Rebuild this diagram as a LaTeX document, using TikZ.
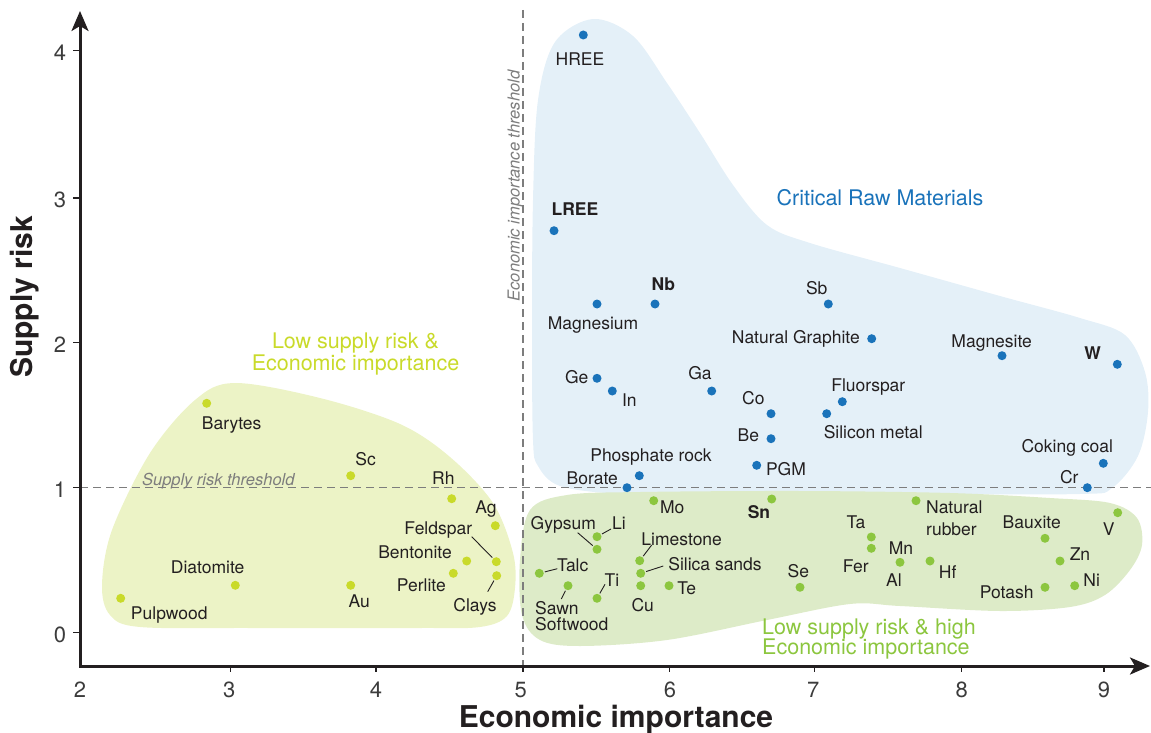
\documentclass[tikz,border=0pt]{standalone}
\usepackage{fontspec}
\setmainfont{TeX Gyre Heros}
\usetikzlibrary{arrows.meta}
\definecolor{cblue}{RGB}{26,115,186}
\definecolor{bluefill}{RGB}{228,240,248}
\definecolor{clime}{RGB}{201,218,42}
\definecolor{limefill}{RGB}{236,243,198}
\definecolor{cgreen}{RGB}{140,198,63}
\definecolor{greenfill}{RGB}{221,235,200}
\definecolor{ctext}{RGB}{35,31,32}
\definecolor{cdash}{RGB}{125,125,125}
\definecolor{ctick}{RGB}{60,60,60}
\tikzset{
  dotbase/.style={circle, inner sep=0pt, minimum size=9pt, draw=none},
  bdot/.style={dotbase, fill=cblue},
  ldot/.style={dotbase, fill=clime},
  gdot/.style={dotbase, fill=cgreen},
  lbl/.style={font=\fontsize{17.5}{17.5}\selectfont, text=ctext, inner sep=0pt, text height=12.6pt, text depth=0pt},
  blbl/.style={lbl, font=\fontsize{17.5}{17.5}\selectfont\bfseries},
  mlbl/.style={font={\fontsize{17.5}{16}\selectfont\lineskiplimit=-20pt}, text=ctext, inner sep=0pt, align=left, anchor=north west},
  leader/.style={draw=ctext, line width=0.9pt, shorten <=1pt},
  thr/.style={draw=cdash, line width=1.5pt, dash pattern=on 8pt off 5pt},
  thrtext/.style={font=\fontsize{16.5}{16.5}\selectfont\itshape, text=cdash, inner sep=0pt, anchor=base},
  axisline/.style={draw=ctext, line width=3pt, line join=miter, {Stealth[length=20pt,width=17pt,inset=5pt]}-{Stealth[length=20pt,width=17pt,inset=5pt]}},
  tickmark/.style={draw=ctext, line width=1.2pt},
  ticklbl/.style={font=\fontsize{22}{22}\selectfont, text=ctick, inner sep=0pt, text height=15.8pt, text depth=0pt},
  axtitle/.style={font=\fontsize{30}{30}\selectfont\bfseries, text=ctext, inner sep=0pt},
  region/.style={font=\fontsize{21.5}{22}\selectfont, inner sep=0pt},
}
\begin{document}
\begin{tikzpicture}[x=1pt,y=-1pt]
\useasboundingbox (0,0) rectangle (1151,733);

% ---------- regions ----------
\fill[bluefill] plot[smooth cycle, tension=0.55] coordinates {
 (533,440) (532,330) (533,200) (538,100) (555,42) (593,19) (633,36) (667,83) (700,133)
 (733,185) (767,225) (810,243) (900,268) (1000,296) (1080,318) (1125,335) (1145,372)
 (1148,412) (1138,456) (1112,488) (1080,494) (900,494) (700,494) (620,494) (560,486) (538,466)};

\fill[limefill] plot[smooth cycle, tension=0.55] coordinates {
 (235,383) (320,398) (400,424) (450,457) (493,503) (513,553) (515,588) (507,616) (480,627)
 (420,628) (250,628) (140,627) (110,615) (102,585) (112,530) (150,453) (195,400)};

\fill[greenfill] plot[smooth cycle, tension=0.55] coordinates {
 (530,510) (567,495) (640,492) (800,491) (950,493) (1050,498) (1110,503) (1137,518)
 (1142,545) (1130,570) (1105,595) (1070,607) (1000,611) (900,606) (850,604) (767,620)
 (667,640) (580,646) (540,640) (522,615) (520,560)};

% ---------- thresholds ----------
\coordinate (vt) at (523,10);
\coordinate (vb) at (523,665);
\coordinate (hl) at (80,487.7);
\coordinate (hr) at (1151,487.7);
\draw[thr] (vt) -- (vb);
\draw[thr] (hl) -- (hr);
\node[thrtext] (srt) at (218.3,485) {Supply risk threshold};
\node[thrtext, rotate=90] (eit) at (519.5,186) {Economic importance threshold};

% ---------- axes ----------
\coordinate (ytop) at (80,11);
\coordinate (origin) at (80,666);
\coordinate (xend) at (1150,666);
\draw[axisline] (ytop) -- (origin) -- (xend);

\foreach \yy/\t in {632.7/0,487.7/1,342.7/2,198/3,50.7/4}{
  \draw[tickmark] (73,\yy) -- (80,\yy);
  \node[ticklbl] (yt\t) at (60,\yy+1.5) {\t};
}
\foreach \xx/\lx/\t in {230.7/229.3/3,376/376/4,523/520.7/5,669.3/670/6,814.3/813.3/7,961.7/961.7/8,1104/1104/9}{
  \draw[tickmark] (\xx,666) -- (\xx,672);
  \node[ticklbl] (xt\t) at (\lx,690) {\t};
}
\node[ticklbl] (xt2) at (80,690) {2};

\node[axtitle, rotate=90] (ytitle) at (24.5,297) {Supply risk};
\node[axtitle] (xtitle) at (616,719.5) {Economic importance};

% ---------- region labels ----------
\node[region, text=cblue, text height=15.4pt, text depth=0pt] (crm) at (880,197.3) {Critical Raw Materials};
\node[region, text=clime, align=center, anchor=north] (lowlbl) at (355.5,332.3) {Low supply risk \&\\Economic importance};
\node[region, text=cgreen, align=left, anchor=north west, font={\fontsize{21.5}{19.6}\selectfont\lineskiplimit=-20pt}] (highlbl) at (762,618.6) {Low supply risk \& high\\Economic importance};

% ---------- critical raw materials (blue) ----------
\node[bdot] (hree) at (583.3,35) {};        \node[lbl] (hree-l) at (580,59) {HREE};
\node[bdot] (lree) at (554,230.7) {};       \node[blbl] (lree-l) at (575,209.3) {LREE};
\node[bdot] (magn) at (597,304) {};         \node[lbl] (magn-l) at (593,323.3) {Magnesium};
\node[bdot] (nb) at (655,304) {};           \node[blbl] (nb-l) at (663.3,283.7) {Nb};
\node[bdot] (sb) at (828.3,304) {};         \node[lbl] (sb-l) at (816.7,288) {Sb};
\node[bdot] (ngr) at (871.7,338.7) {};      \node[lbl, anchor=east] (ngr-l) at (860,336.7) {Natural Graphite};
\node[bdot] (mgs) at (1002,355.7) {};       \node[lbl] (mgs-l) at (991.7,341) {Magnesite};
\node[bdot] (w) at (1117.3,364.3) {};       \node[blbl] (w-l) at (1092.7,353.3) {W};
\node[bdot] (ge) at (597,378.3) {};         \node[lbl] (ge-l) at (576.7,376.7) {Ge};
\node[bdot] (in) at (612.3,391) {};         \node[lbl] (in-l) at (629.3,400) {In};
\node[bdot] (ga) at (711.7,391) {};         \node[lbl] (ga-l) at (700,373) {Ga};
\node[bdot] (co) at (771,413.7) {};         \node[lbl] (co-l) at (753.3,398.3) {Co};
\node[bdot] (be) at (771,438.7) {};         \node[lbl] (be-l) at (748.3,435) {Be};
\node[bdot] (pgm) at (756.7,465.3) {};      \node[lbl] (pgm-l) at (786,469) {PGM};
\node[bdot] (phos) at (639.3,475.7) {};     \node[lbl] (phos-l) at (651,455) {Phosphate rock};
\node[bdot] (bor) at (627,487.7) {};        \node[lbl] (bor-l) at (592.3,477.7) {Borate};
\node[bdot] (flu) at (842.3,401.7) {};      \node[lbl] (flu-l) at (868.3,385) {Fluorspar};
\node[bdot] (sim) at (826.7,413.7) {};      \node[lbl] (sim-l) at (873.3,431.7) {Silicon metal};
\node[bdot] (coal) at (1103.3,463.3) {};    \node[lbl] (coal-l) at (1067.3,446) {Coking coal};
\node[bdot] (cr) at (1087.3,487.7) {};      \node[lbl] (cr-l) at (1069.3,477.3) {Cr};

% ---------- low supply risk & high EI (green) ----------
\node[gdot] (mo) at (653.7,500.7) {};       \node[lbl] (mo-l) at (672.3,507.3) {Mo};
\node[gdot] (sn) at (771.7,499) {};         \node[blbl] (sn-l) at (759,512.3) {Sn};
\node[gdot] (li) at (597,536.7) {};         \node[lbl] (li-l) at (619,523.3) {Li};
\node[gdot] (gyp) at (597,549.3) {};        \node[lbl] (gyp-l) at (563.3,523.3) {Gypsum};
\node[gdot] (talc) at (539.3,573.3) {};     \node[lbl] (talc-l) at (572.7,565) {Talc};
\node[gdot] (sawn) at (568,585.7) {};       \node[mlbl] (sawn-l) at (535,601) {Sawn\\Softwood};
\node[gdot] (ti) at (597,598.3) {};         \node[lbl] (ti-l) at (612,580) {Ti};
\node[gdot] (lime) at (639.7,560.7) {};     \node[lbl] (lime-l) at (681.7,538.7) {Limestone};
\node[gdot] (sil) at (640.7,573.3) {};      \node[lbl] (sil-l) at (715,564) {Silica sands};
\node[gdot] (cu) at (640.7,585.7) {};       \node[lbl] (cu-l) at (642.7,605.3) {Cu};
\node[gdot] (te) at (669,585.7) {};         \node[lbl] (te-l) at (686.7,587.7) {Te};
\node[gdot] (se) at (800,587.3) {};         \node[lbl] (se-l) at (798.3,571) {Se};
\node[gdot] (ta) at (871.3,537) {};         \node[lbl] (ta-l) at (856,522.3) {Ta};
\node[gdot] (fer) at (871.3,548.3) {};      \node[lbl] (fer-l) at (855.7,565.7) {Fer};
\node[gdot] (mnal) at (900,562.3) {};       \node[lbl] (mn-l) at (901,548.3) {Mn};
                                            \node[lbl] (al-l) at (894,580) {Al};
\node[gdot] (hf) at (930,561) {};           \node[lbl] (hf-l) at (947.7,572.3) {Hf};
\node[gdot] (nrub) at (916,500.7) {};       \node[mlbl, font={\fontsize{17.5}{22}\selectfont}] (nrub-l) at (926,500.6) {Natural\\rubber};
\node[gdot] (baux) at (1045,538.3) {};      \node[lbl] (baux-l) at (1031.7,522.3) {Bauxite};
\node[gdot] (zn) at (1060,561) {};          \node[lbl] (zn-l) at (1080,554.3) {Zn};
\node[gdot] (ni) at (1074.7,585.7) {};      \node[lbl] (ni-l) at (1091.7,580) {Ni};
\node[gdot] (pot) at (1045,587.3) {};       \node[lbl] (pot-l) at (1006.7,592.3) {Potash};
\node[gdot] (v) at (1117.7,512.7) {};       \node[lbl] (v-l) at (1108.7,529) {V};

% ---------- low supply risk & EI (lime) ----------
\node[ldot] (bary) at (206.7,403.3) {};     \node[lbl] (bary-l) at (231.7,423.3) {Barytes};
\node[ldot] (sc) at (350.7,475.7) {};       \node[lbl] (sc-l) at (365.7,459) {Sc};
\node[ldot] (diat) at (235.3,585.3) {};     \node[lbl] (diat-l) at (207.7,567) {Diatomite};
\node[ldot] (pulp) at (120.7,598.3) {};     \node[lbl] (pulp-l) at (169.3,613.3) {Pulpwood};
\node[ldot] (au) at (350.7,585.3) {};       \node[lbl] (au-l) at (359.3,601) {Au};
\node[ldot] (rh) at (451.7,498.7) {};       \node[lbl] (rh-l) at (443.3,477.7) {Rh};
\node[ldot] (ag) at (495.3,525.7) {};       \node[lbl] (ag-l) at (486,506.7) {Ag};
\node[ldot] (feld) at (496.3,561.7) {};     \node[lbl] (feld-l) at (438.3,528.3) {Feldspar};
\node[ldot] (bent) at (466.7,561) {};       \node[lbl, anchor=east] (bent-l) at (452,552.3) {Bentonite};
\node[ldot] (perl) at (453.3,573.3) {};     \node[lbl, anchor=east] (perl-l) at (446,585) {Perlite};
\node[ldot] (clay) at (496.7,575.7) {};     \node[lbl] (clay-l) at (475,605) {Clays};

% ---------- leader lines ----------
\coordinate (li-e) at (611,529);
\coordinate (gyp-e) at (577.7,532.7);
\coordinate (talc-e) at (557.3,568.7);
\coordinate (sawn-e) at (561.3,599);
\coordinate (ti-e) at (605,584.3);
\coordinate (lime-e) at (651.7,545);
\coordinate (sil-e) at (663.3,566);
\coordinate (feld-e) at (471.7,536.7);
\coordinate (clay-e) at (487.7,591.7);
\draw[leader] (li) -- (li-e);
\draw[leader] (gyp) -- (gyp-e);
\draw[leader] (talc) -- (talc-e);
\draw[leader] (sawn) -- (sawn-e);
\draw[leader] (ti) -- (ti-e);
\draw[leader] (lime) -- (lime-e);
\draw[leader] (sil) -- (sil-e);
\draw[leader] (feld) -- (feld-e);
\draw[leader] (clay) -- (clay-e);
\end{tikzpicture}
\end{document}
